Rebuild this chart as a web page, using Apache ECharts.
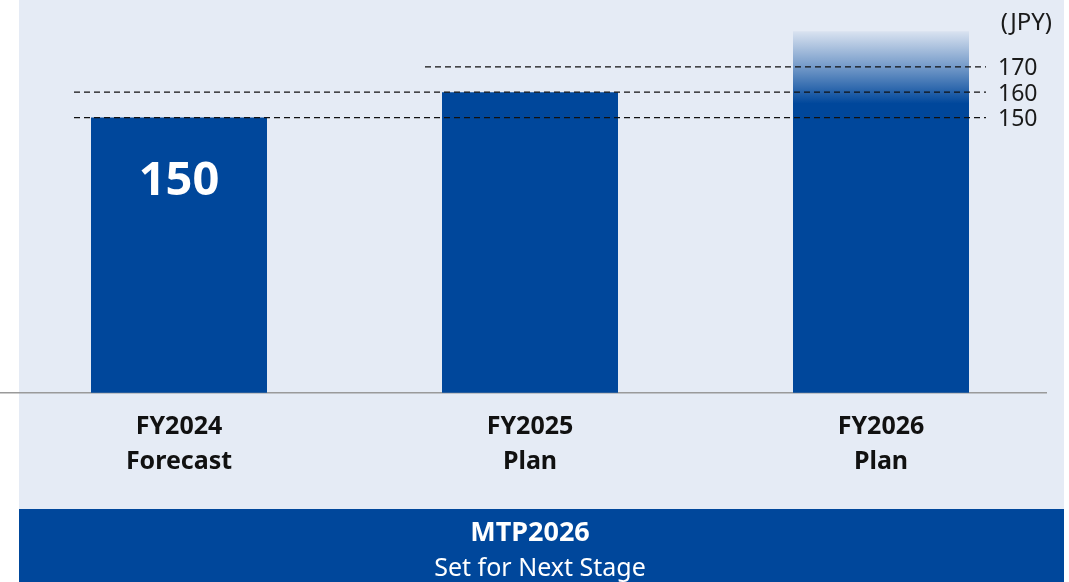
<!DOCTYPE html>
<html>
<head>
<meta charset="utf-8">
<script src="https://cdn.jsdelivr.net/npm/echarts@6/dist/echarts.min.js"></script>
<style>
  html, body { margin: 0; padding: 0; background: #ffffff; }
  #chart { width: 1069px; height: 582px; }
</style>
</head>
<body>
<div id="chart"></div>
<script>
// ---- data ----
const categories = ['FY2024\nForecast', 'FY2025\nPlan', 'FY2026\nPlan'];
const barValues = [150, 160, 184];          // FY2026 bar drawn as a fading upside band
const guideValues = [150, 160, 170];        // dashed reference levels (JPY)
const guideFromCategory = [0, 0, 1];        // category where each dashed line starts
const unitLabel = '(JPY)';
const bannerTitle = 'MTP2026';
const bannerSubtitle = 'Set for Next Stage';

// ---- layout helpers ----
const FONT = '"Noto Sans", "Open Sans", sans-serif';
const BLUE = '#00479b';
const catPx = 351;            // pixel width of one category band
const barPx = 176;
const halfBar = (barPx / 2) / catPx;
const leadPx = 17 / catPx;

const chart = echarts.init(document.getElementById('chart'), null, { renderer: 'canvas' });

const guideSeries = guideValues.map((v, i) => {
  const start = guideFromCategory[i] + 0.5 - halfBar - leadPx;
  const end = (categories.length - 1) + 0.5 + halfBar + leadPx;
  return {
    type: 'line',
    xAxisIndex: 1,
    yAxisIndex: 0,
    z: 5,
    symbol: 'none',
    silent: true,
    data: [[start, v], [end, v]],
    lineStyle: { type: [6, 4], color: '#111111', width: 1.3 },
    endLabel: {
      show: true,
      formatter: () => String(v),
      color: '#1a1a1a',
      fontFamily: FONT,
      fontSize: 23,
      distance: 12,
      offset: [0, 2]
    }
  };
});

const option = {
  animation: false,
  backgroundColor: '#ffffff',
  grid: { left: 3.5, right: 12.5, top: 16, bottom: 189.3 },
  xAxis: [
    {
      type: 'category',
      data: categories,
      axisLine: { show: false },
      axisTick: { show: false },
      axisLabel: {
        color: '#111111',
        fontFamily: FONT,
        fontWeight: 'bold',
        fontSize: 25,
        lineHeight: 35,
        margin: 17
      }
    },
    { type: 'value', min: 0, max: categories.length, show: false }
  ],
  yAxis: {
    type: 'value',
    min: 41.7,
    max: 190,
    show: false,
    splitLine: { show: false }
  },
  graphic: [
    { type: 'rect', z: -10, silent: true, shape: { x: 19, y: 0, width: 1045, height: 509 }, style: { fill: '#e5ebf5' } },
    { type: 'rect', z: -10, silent: true, shape: { x: 19, y: 509, width: 1045, height: 73 }, style: { fill: BLUE } },
    { type: 'line', z: 1, silent: true, shape: { x1: 0, y1: 392.7, x2: 1047, y2: 392.7 }, style: { stroke: '#9a9a9a', lineWidth: 1.5 } },
    { type: 'text', z: 10, x: 1052, y: 23, style: { text: unitLabel, fill: '#1a1a1a', font: '24px ' + FONT, align: 'right', verticalAlign: 'middle' } },
    { type: 'text', z: 10, x: 530, y: 533, style: { text: bannerTitle, fill: '#ffffff', font: 'bold 27px ' + FONT, align: 'center', verticalAlign: 'middle' } },
    { type: 'text', z: 10, x: 540, y: 569, style: { text: bannerSubtitle, fill: '#ffffff', font: '25px ' + FONT, align: 'center', verticalAlign: 'middle' } }
  ],
  series: [
    {
      type: 'bar',
      xAxisIndex: 0,
      yAxisIndex: 0,
      barWidth: barPx,
      z: 2,
      data: barValues.map((v, i) => ({
        value: v,
        itemStyle: {
          color: i === barValues.length - 1
            ? new echarts.graphic.LinearGradient(0, 0, 0, 1, [
                { offset: 0, color: 'rgba(0,71,155,0.05)' },
                { offset: 0.1, color: 'rgba(0,71,155,0.5)' },
                { offset: 0.2, color: 'rgba(0,71,155,1)' },
                { offset: 1, color: BLUE }
              ])
            : BLUE
        },
        label: i === 0 ? {
          show: true,
          position: 'insideTop',
          distance: 40,
          formatter: '{c}',
          color: '#ffffff',
          fontFamily: FONT,
          fontWeight: 'bold',
          fontSize: 47,
          lineHeight: 48
        } : { show: false }
      }))
    },
    ...guideSeries
  ]
};

chart.setOption(option);
</script>
</body>
</html>
